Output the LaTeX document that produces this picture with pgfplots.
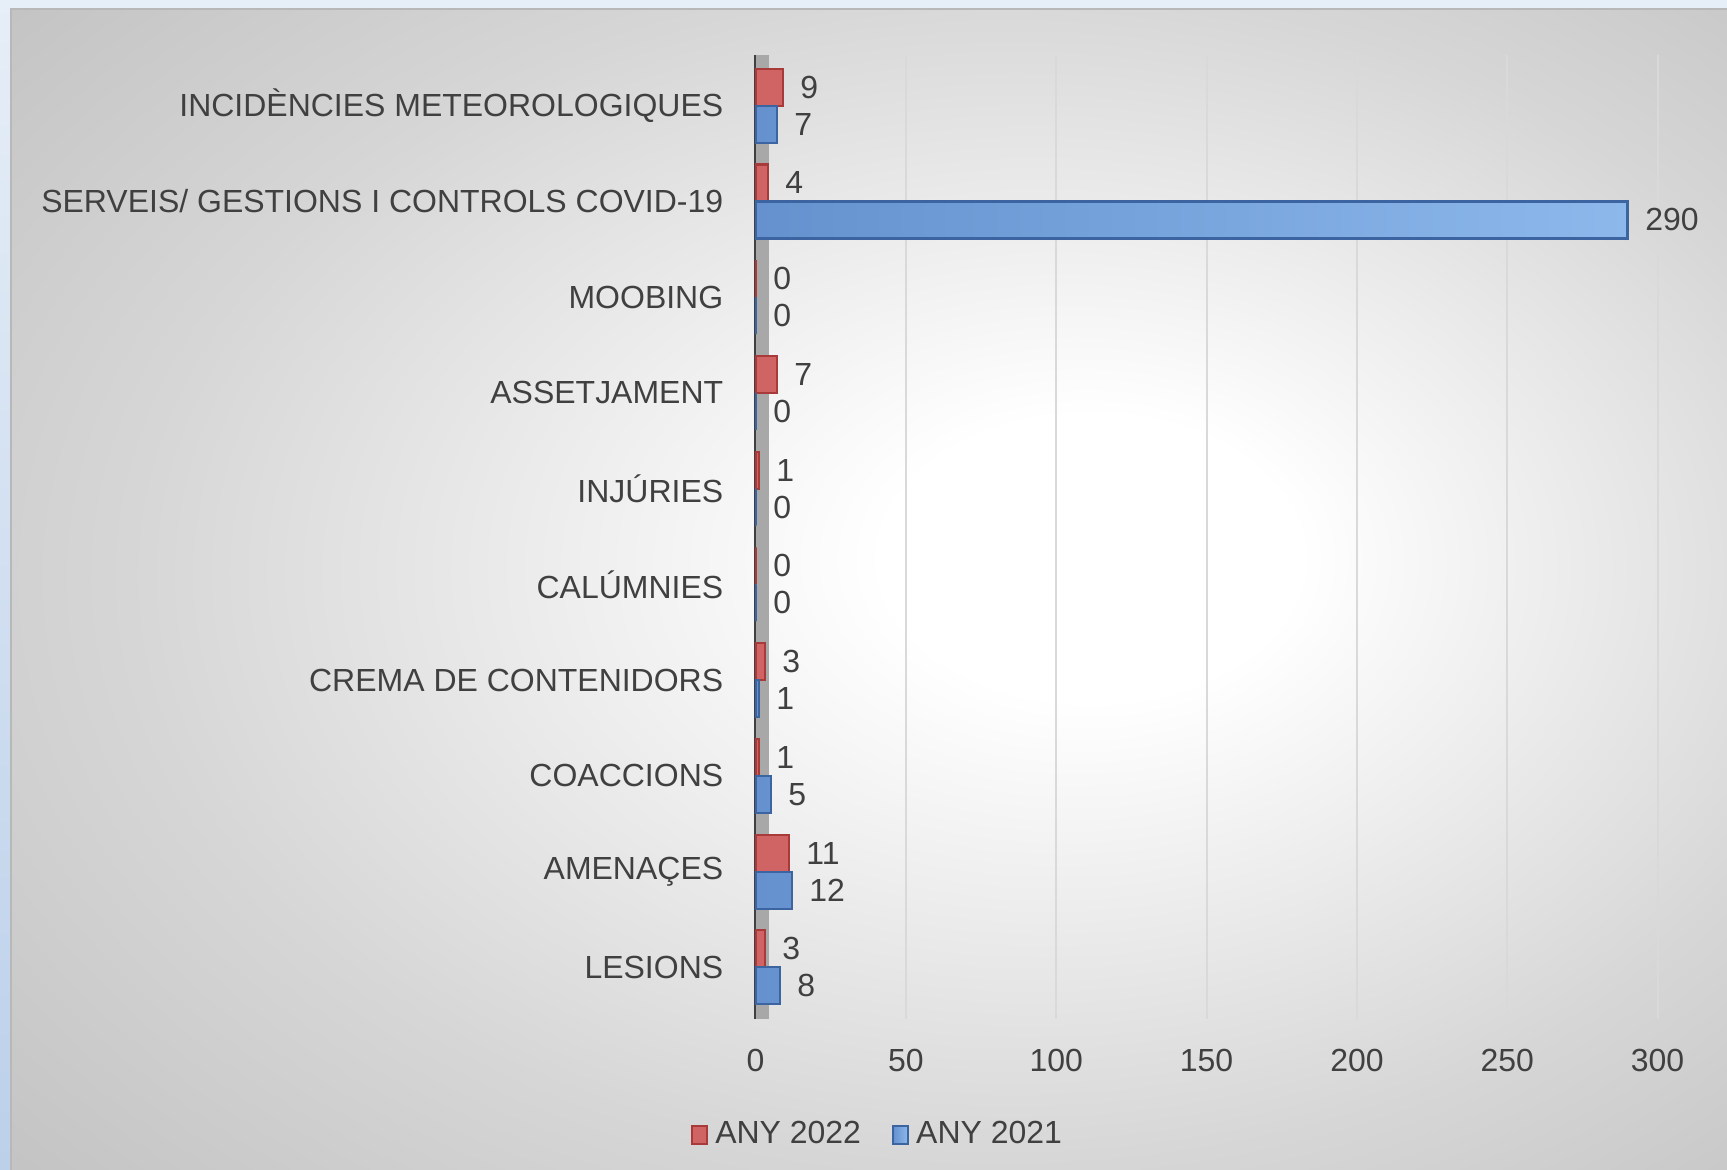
\documentclass[border=0pt]{standalone}
\usepackage{pgfplots}
\pgfplotsset{compat=1.18}
\usepackage{fontspec}
\setmainfont{Liberation Sans}
\definecolor{txt}{HTML}{404040}
\definecolor{redF}{HTML}{D06464}
\definecolor{redE}{HTML}{A83A3A}
\definecolor{blueL}{HTML}{6592CE}
\definecolor{blueR}{HTML}{8CB8EC}
\definecolor{blueE}{HTML}{3B64A0}
\definecolor{gridc}{HTML}{D9D9D9}
\definecolor{wall}{HTML}{A8A8A8}
\definecolor{bgtop}{HTML}{E6EEF7}
\definecolor{bgbot}{HTML}{BCD0EA}
\pgfdeclareradialshading{bgshade}{\pgfpoint{7bp}{2bp}}{color(0bp)=(white); color(6bp)=(white); color(25bp)=(black!16); color(36bp)=(black!23); color(50bp)=(black!24)}
\begin{document}
\begin{tikzpicture}[x=1cm,y=1cm]
\useasboundingbox (0,0) rectangle (17.27,11.70);
\shade[top color=bgtop, bottom color=bgbot] (0,0) rectangle (17.27,11.70);
\shade[shading=bgshade, draw=black!28, line width=0.4pt] (0.11,-0.2) rectangle (17.45,11.61);
\begin{axis}[
  at={(7.556cm,1.51cm)}, anchor=south west,
  scale only axis, width=9.02cm, height=9.64cm,
  xbar, bar width=0.37cm,
  xmin=0, xmax=300, ymin=-0.54, ymax=9.53,
  xtick={0,50,...,300}, ytick={0,...,9},
  yticklabels={LESIONS, AMENAÇES, COACCIONS, CREMA DE CONTENIDORS, CALÚMNIES, INJÚRIES, ASSETJAMENT, MOOBING, SERVEIS/ GESTIONS I CONTROLS COVID-19, INCIDÈNCIES METEOROLOGIQUES},
  axis lines*=left,
  x axis line style={draw=none},
  y axis line style={line width=0.9pt, color=txt},
  major tick length=0pt,
  xmajorgrids, grid style={gridc, line width=0.6pt},
  tick label style={font=\fontsize{9.1}{10}\selectfont, text=txt},
  yticklabel style={xshift=-0.2cm},
  xticklabel style={yshift=-0.18cm},
  /pgf/number format/assume math mode=true,
  nodes near coords,
  nodes near coords style={font=\fontsize{9.1}{10}\selectfont, text=txt, anchor=west, xshift=0.05cm},
  legend style={at={(0.138,-0.12)}, anchor=center, draw=none, fill=none, font=\fontsize{9.1}{10}\selectfont, text=txt, /tikz/every even column/.append style={column sep=0.24cm}},
  legend columns=2,
  legend image code/.code={\draw[#1] (0cm,-0.09cm) rectangle (0.15cm,0.09cm);},
  clip=false,
]
\fill[wall] (axis cs:0,-0.54) rectangle (axis cs:4.5,9.53);
\addplot[fill=redF, draw=redE, line width=0.6pt, bar shift=0.185cm] coordinates {(3,0) (11,1) (1,2) (3,3) (0,4) (1,5) (7,6) (0,7) (4,8) (9,9)};
\addplot[left color=blueL, right color=blueR, draw=blueE, line width=0.6pt, bar shift=-0.185cm] coordinates {(8,0) (12,1) (5,2) (1,3) (0,4) (0,5) (0,6) (0,7) (290,8) (7,9)};
\legend{ANY 2022, ANY 2021}
\end{axis}
\end{tikzpicture}
\end{document}
